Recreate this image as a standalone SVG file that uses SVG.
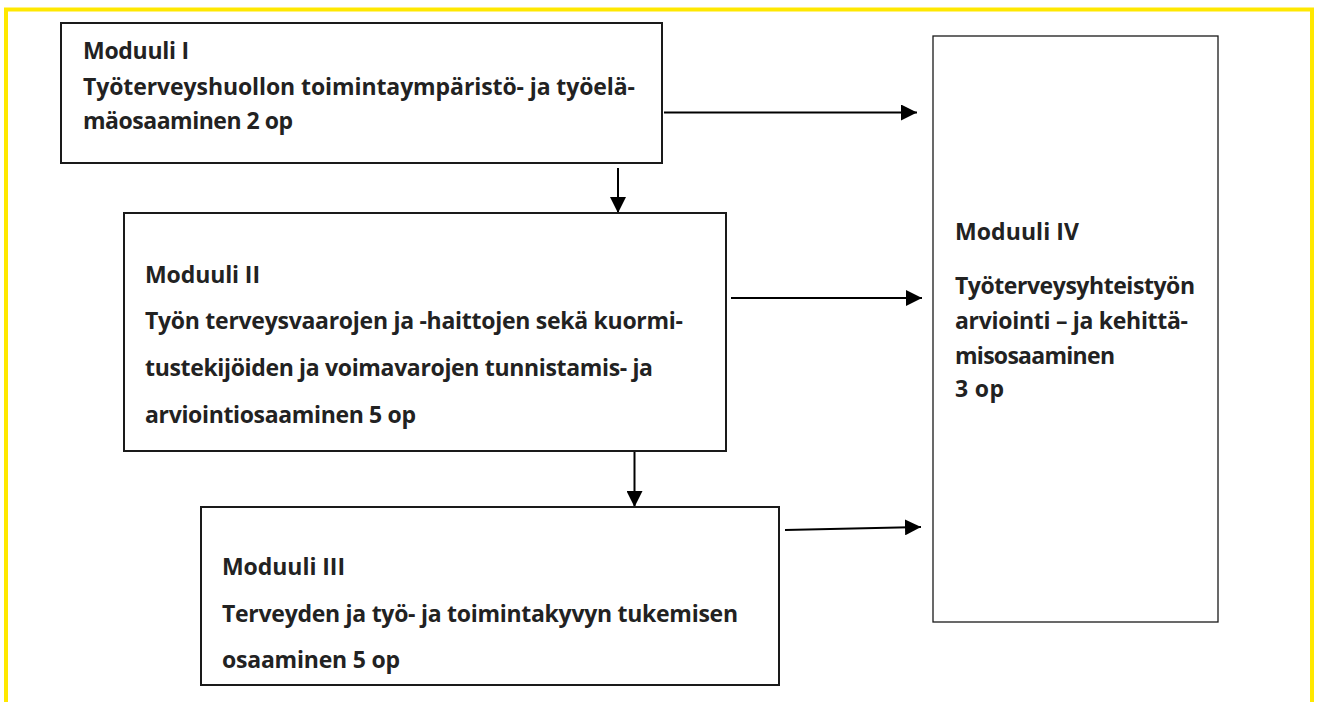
<svg xmlns="http://www.w3.org/2000/svg" width="1317" height="702" viewBox="0 0 1317 702">
<style>
.box{fill:#fff;stroke:#1a1a1a;stroke-width:2}
.thin{stroke-width:1.3}
.t{font-family:"Open Sans","Noto Sans","Liberation Sans",sans-serif;font-weight:700;font-size:23px;fill:#222}
.c{stroke:#000;stroke-width:2;fill:none}
</style>
<defs>
<marker id="ah" markerUnits="userSpaceOnUse" markerWidth="16" markerHeight="16" refX="16" refY="8" orient="auto">
<path d="M0,0 L16,8 L0,16 Z" fill="#000"/>
</marker>
</defs>
<rect x="6" y="9.5" width="1306" height="720" fill="#fff" stroke="#FFE800" stroke-width="4"/>
<g id="connectors">
<line class="c" x1="664" y1="112.5" x2="917" y2="112.5" marker-end="url(#ah)"/>
<line class="c" x1="731" y1="298" x2="922" y2="298" marker-end="url(#ah)"/>
<line class="c" x1="785" y1="530" x2="921" y2="527" marker-end="url(#ah)"/>
<line class="c" x1="618" y1="168" x2="618" y2="213" marker-end="url(#ah)"/>
<line class="c" x1="634.5" y1="452" x2="634.5" y2="507" marker-end="url(#ah)"/>
</g>
<g id="m1">
<rect class="box" x="61" y="23" width="601" height="140"/>
<text class="t" x="83" y="59" textLength="106" lengthAdjust="spacing">Moduuli I</text>
<text class="t" x="83" y="95" textLength="552" lengthAdjust="spacing">Työterveyshuollon toimintaympäristö- ja työelä-</text>
<text class="t" x="83" y="129" textLength="210" lengthAdjust="spacing">mäosaaminen 2 op</text>
</g>
<g id="m2">
<rect class="box" x="124" y="213" width="602" height="238"/>
<text class="t" x="145" y="283" textLength="115" lengthAdjust="spacing">Moduuli II</text>
<text class="t" x="145" y="329" textLength="538" lengthAdjust="spacing">Työn terveysvaarojen ja -haittojen sekä kuormi-</text>
<text class="t" x="145" y="376" textLength="508" lengthAdjust="spacing">tustekijöiden ja voimavarojen tunnistamis- ja</text>
<text class="t" x="145" y="423" textLength="271" lengthAdjust="spacing">arviointiosaaminen 5 op</text>
</g>
<g id="m3">
<rect class="box" x="201" y="507" width="578" height="178"/>
<text class="t" x="222" y="575" textLength="123" lengthAdjust="spacing">Moduuli III</text>
<text class="t" x="222" y="622" textLength="516" lengthAdjust="spacing">Terveyden ja työ- ja toimintakyvyn tukemisen</text>
<text class="t" x="222" y="668" textLength="178" lengthAdjust="spacing">osaaminen 5 op</text>
</g>
<g id="m4">
<rect class="box thin" x="933" y="36" width="285" height="586"/>
<text class="t" x="955" y="240" textLength="124" lengthAdjust="spacing">Moduuli IV</text>
<text class="t" x="955" y="294" textLength="240" lengthAdjust="spacing">Työterveysyhteistyön</text>
<text class="t" x="955" y="329" textLength="233" lengthAdjust="spacing">arviointi – ja kehittä-</text>
<text class="t" x="955" y="364" textLength="160" lengthAdjust="spacing">misosaaminen</text>
<text class="t" x="955" y="397" textLength="49" lengthAdjust="spacing">3 op</text>
</g>
</svg>
